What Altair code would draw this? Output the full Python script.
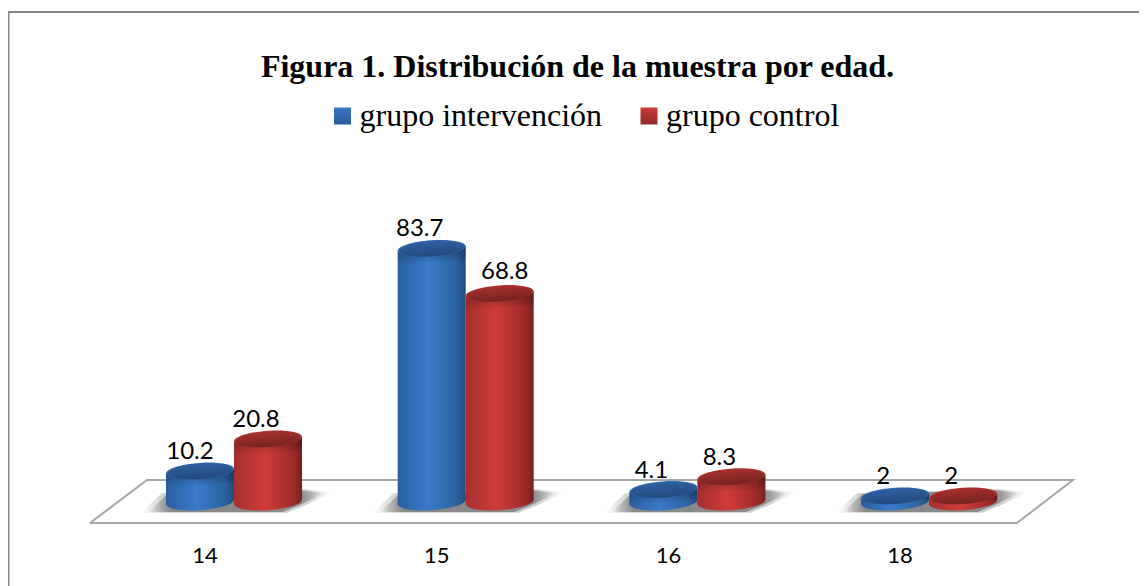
import math
import altair as alt
import pandas as pd

# ---- chart values
title_text = "Figura 1. Distribución de la muestra por edad."
ages = ["14", "15", "16", "18"]
series_names = ["grupo intervención", "grupo control"]
intervencion = [10.2, 83.7, 4.1, 2]
control = [20.8, 68.8, 8.3, 2]
label_text_i = ["10.2", "83.7", "4.1", "2"]
label_text_c = ["20.8", "68.8", "8.3", "2"]

# ---- floor outline in scale units (x: category slots, y: percent)
floor_x = [-0.6215, -0.3755, 3.621, 3.379, -0.6215]
floor_y = [-6.93, 7.26, 7.26, -6.93, -6.93]

W, H = 1131, 578
PX_X, PX_Y = 231.7, 3.03          # pixels per unit
X_DOMAIN = [-226 / PX_X, (W - 226) / PX_X]
Y_DOMAIN = [(494 - H) / PX_Y, 494 / PX_Y]
HALF = 34 / PX_X                  # cylinder half width
ANGLE = 4
TILT = math.tan(math.radians(ANGLE)) * 34 / PX_Y  # rise of the ellipse ends
BAND = 14 / PX_Y                  # depth of the shading under each cap

x_scale = alt.Scale(domain=X_DOMAIN, nice=False, zero=False)
y_scale = alt.Scale(domain=Y_DOMAIN, nice=False, zero=False)
X = lambda f: alt.X(f, type="quantitative", scale=x_scale, axis=None)
Y = lambda f: alt.Y(f, type="quantitative", scale=y_scale, axis=None)


def h_grad(stops):
    return alt.LinearGradient(
        gradient="linear", x1=0, x2=1, y1=0, y2=0,
        stops=[alt.GradientStop(offset=o, color=c) for o, c in stops],
    )


def v_grad_expr(top, bottom):
    return {"expr": "{gradient:'linear',x1:0,y1:0,x2:0,y2:1,stops:["
                    f"{{offset:0,color:'{top}'}},{{offset:1,color:'{bottom}'}}]}}"}


rows_body, rows_cap, rows_label = [], [], []
for s_idx, (name, vals, texts) in enumerate(
        [(series_names[0], intervencion, label_text_i),
         (series_names[1], control, label_text_c)]):
    for i, (age, v, t) in enumerate(zip(ages, vals, texts)):
        c = i + (-HALF if s_idx == 0 else HALF)
        for sign in (-1, 1):
            rows_body.append(dict(series=name, age=age, key=name + age, x=c + sign * HALF,
                                  top=v + sign * TILT, base=sign * TILT,
                                  band=max(v - BAND, 0) + sign * TILT))
        rows_cap.append(dict(series=name, age=age, x=c, v=v, zero=0))
        nudge = 5 if t == "68.8" else (-10 if t == "10.2" else -12)
        lift = 14.5 if t == "68.8" else 12
        rows_label.append(dict(series=name, text=t, x=c + nudge / PX_X, y=v + lift / PX_Y))

body = pd.DataFrame(rows_body)
caps = pd.DataFrame(rows_cap)
labels = pd.DataFrame(rows_label)
groups = pd.DataFrame({"age": ages, "x": list(range(len(ages))), "y": [0] * len(ages)})
cat_labels = pd.DataFrame({"age": ages, "x": [i - 29 / PX_X for i in range(len(ages))], "y": [(502 - 563) / PX_Y] * len(ages)})
floor = pd.DataFrame({"x": floor_x, "y": floor_y, "k": list(range(len(floor_x)))})

fill_scale = alt.Scale(
    domain=series_names,
    range=[v_grad_expr("#3b78c8", "#2a5a96"), v_grad_expr("#cf3c39", "#8f2a28")],
)

ELLIPSE = "M-1,0 A1,0.24,0,1,1,1,0 A1,0.24,0,1,1,-1,0 Z"
SHADOW = "M-0.95,0.11 L-0.74,-0.09 L0.73,-0.13 L1,-0.098 L0.73,0.033 L0.54,0.11 Z"

frame_left = alt.Chart(pd.DataFrame({"a": [0]})).mark_rule(color="#868686", strokeWidth=1.5).encode(
    x=alt.value(0.75), y=alt.value(4), y2=alt.value(H))
frame_top = alt.Chart(pd.DataFrame({"a": [0]})).mark_rule(color="#868686", strokeWidth=2).encode(
    x=alt.value(0), x2=alt.value(W), y=alt.value(4))

floor_line = alt.Chart(floor).mark_line(color="#a6a6a6", strokeWidth=2, strokeJoin="miter").encode(
    x=X("x"), y=Y("y"), order="k:Q")

SHADOW_FILL = h_grad([(0, "rgba(125,125,125,0)"), (0.13, "rgba(125,125,125,0.85)"),
                      (0.86, "rgba(125,125,125,0.85)"), (1, "rgba(125,125,125,0)")])
shadow_soft = alt.Chart(groups).mark_point(
    shape=SHADOW, filled=True, opacity=0.45, size=(2 * 98) ** 2, strokeWidth=0, fill=SHADOW_FILL,
).encode(x=X("x"), y=Y("y"))
shadow = alt.Chart(groups).mark_point(
    shape=SHADOW, filled=True, opacity=1, size=(2 * 90) ** 2, strokeWidth=0, fill=SHADOW_FILL,
).encode(x=X("x"), y=Y("y"))

fill_enc = alt.Fill("series:N", scale=fill_scale, legend=None)

BODY_STOPS = {
    series_names[0]: [(0, "#2a5f9f"), (0.45, "#3a7bcb"), (0.85, "#2c639f"), (1, "#1f4c80")],
    series_names[1]: [(0, "#a52f2d"), (0.45, "#d03c39"), (0.85, "#a02c2a"), (1, "#762120")],
}
bottoms = [
    alt.Chart(caps[caps.series == n]).mark_point(
        shape=ELLIPSE, filled=True, opacity=1, size=68 ** 2, angle=360 - ANGLE, strokeWidth=0,
        fill=h_grad(BODY_STOPS[n])
    ).encode(x=X("x"), y=Y("zero"))
    for n in series_names
]
bodies = [
    alt.Chart(body[body.series == n]).mark_area(fill=h_grad(BODY_STOPS[n]), opacity=1).encode(
        x=X("x"), y=Y("top"), y2=alt.Y2("base"), detail="key:N")
    for n in series_names
]

band_fill = alt.LinearGradient(
    gradient="linear", x1=0, x2=0, y1=0, y2=1,
    stops=[alt.GradientStop(offset=0, color="rgba(0,0,0,0.3)"),
           alt.GradientStop(offset=1, color="rgba(0,0,0,0)")],
)
bands = alt.Chart(body).mark_area(fill=band_fill, opacity=1).encode(
    x=X("x"), y=Y("top"), y2=alt.Y2("band"), detail="key:N")

tops = alt.Chart(caps).mark_point(
    shape=ELLIPSE, filled=True, opacity=1, size=68 ** 2, angle=360 - ANGLE, strokeWidth=0
).encode(x=X("x"), y=Y("v"), fill=fill_enc)

top_shade = alt.Chart(caps).mark_point(
    shape=ELLIPSE, filled=True, opacity=0.18, size=65 ** 2, angle=360 - ANGLE, strokeWidth=0, fill="#000000"
).encode(x=X("x"), y=Y("v"))

legend_layer = alt.Chart(caps).mark_square(size=0, opacity=1, filled=True).encode(
    x=X("x"), y=Y("zero"),
    fill=alt.Fill("series:N", scale=fill_scale, sort=series_names,
                  legend=alt.Legend(
                      title=None, orient="none", legendX=318.5, legendY=92, direction="horizontal",
                      columns=2, symbolType="square", symbolSize=289, symbolStrokeWidth=0,
                      labelFont="Liberation Serif", labelFontSize=32, labelColor="#000000",
                      labelOffset=1, columnPadding=30.5, labelLimit=400, padding=0)),
)

value_labels = alt.Chart(labels).mark_text(
    font="Lato", fontSize=24, color="#000000", align="center", baseline="alphabetic"
).encode(x=X("x"), y=Y("y"), text="text:N")

age_labels = alt.Chart(cat_labels).mark_text(
    font="Lato", fontSize=22, color="#000000", align="center", baseline="alphabetic"
).encode(x=X("x"), y=Y("y"), text="age:N")

title = alt.Chart(pd.DataFrame({"t": [title_text]})).mark_text(
    font="Liberation Serif", fontSize=32, fontWeight="bold", color="#000000",
    align="center", baseline="alphabetic"
).encode(x=alt.value(569.5), y=alt.value(69), text="t:N")

chart = alt.layer(
    frame_left, frame_top, floor_line, shadow_soft, shadow, legend_layer, *bottoms, *bodies, bands,
    tops, top_shade, value_labels, age_labels, title,
).properties(
    width=W, height=H, padding=0, autosize="none", background="#ffffff"
).configure_view(stroke=None)

chart.save("out.html", embed_options={"renderer": "svg", "actions": False})
